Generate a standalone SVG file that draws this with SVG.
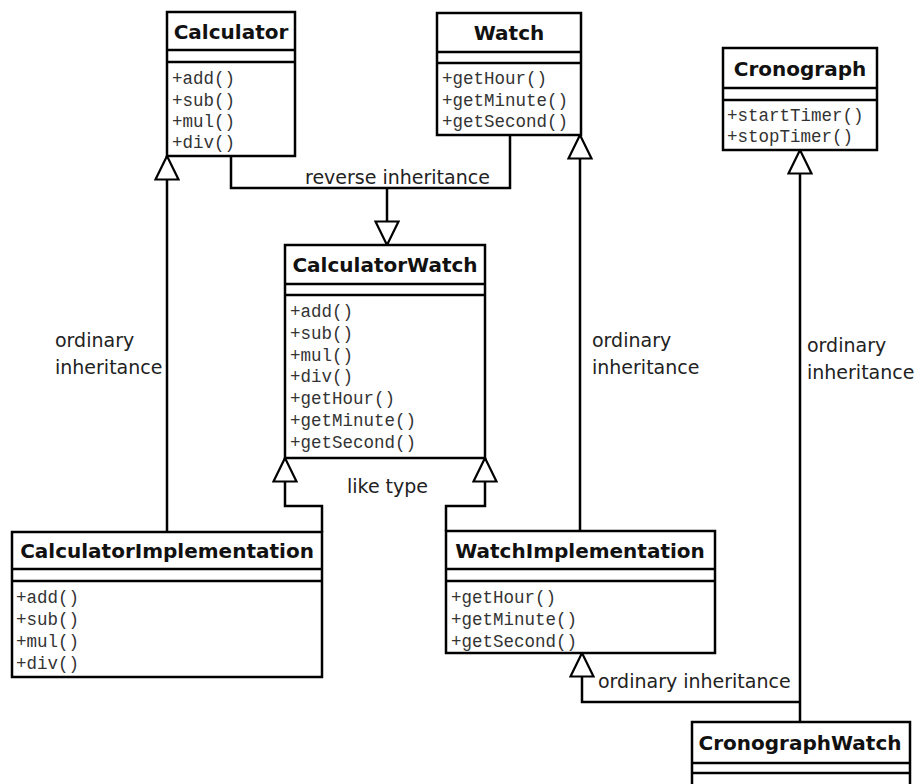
<svg xmlns="http://www.w3.org/2000/svg" width="920" height="784" viewBox="0 0 920 784">
  <defs>
    <style>
      .box { fill: #fff; stroke: #000; stroke-width: 2.5; }
      .sep { stroke: #000; stroke-width: 2.5; }
      .title { font-family: "DejaVu Sans", Verdana, sans-serif; font-weight: bold; font-size: 20px; fill: #111; text-anchor: middle; }
      .op { font-family: "Liberation Mono", "Courier New", monospace; font-size: 17.5px; fill: #333; }
      .lbl { font-family: "DejaVu Sans", Verdana, sans-serif; font-size: 19px; fill: #222; }
      .edge { fill: none; stroke: #000; stroke-width: 2.5; }
    </style>
    <!-- hollow generalization arrowhead -->
    <marker id="gen" viewBox="0 0 27 26" refX="25" refY="13" markerWidth="27" markerHeight="26" orient="auto" markerUnits="userSpaceOnUse">
      <path d="M25 13 L1.5 1.5 L1.5 24.5 Z" fill="#fff" stroke="#000" stroke-width="2.2"/>
    </marker>
  </defs>

  <rect width="920" height="784" fill="#fff"/>

  <!-- connectors -->
  <g id="connectors">
    <path class="edge" d="M231 156 V188 H510 V135"/>
    <path class="edge" d="M387 188 V245" marker-end="url(#gen)"/>
    <path class="edge" d="M167 532 V156" marker-end="url(#gen)"/>
    <path class="edge" d="M580 531 V135" marker-end="url(#gen)"/>
    <path class="edge" d="M800 722 V150" marker-end="url(#gen)"/>
    <path class="edge" d="M322 532 V506 H285 V458" marker-end="url(#gen)"/>
    <path class="edge" d="M446 531 V506 H485 V458" marker-end="url(#gen)"/>
    <path class="edge" d="M800 702 H582 V653" marker-end="url(#gen)"/>
    <text class="lbl" x="305" y="184">reverse inheritance</text>
    <text class="lbl" x="55" y="347">ordinary</text>
    <text class="lbl" x="55" y="374">inheritance</text>
    <text class="lbl" x="592" y="347">ordinary</text>
    <text class="lbl" x="592" y="374">inheritance</text>
    <text class="lbl" x="807" y="352">ordinary</text>
    <text class="lbl" x="807" y="379">inheritance</text>
    <text class="lbl" x="347" y="493">like type</text>
    <text class="lbl" x="598" y="688">ordinary inheritance</text>
  </g>

  <!-- Calculator -->
  <g id="calculator">
    <rect class="box" x="167" y="12" width="128" height="144"/>
    <line class="sep" x1="167" y1="50" x2="295" y2="50"/>
    <line class="sep" x1="167" y1="62" x2="295" y2="62"/>
    <text class="title" x="231" y="39">Calculator</text>
    <text class="op" x="172" y="84">+add()</text>
    <text class="op" x="172" y="106">+sub()</text>
    <text class="op" x="172" y="127">+mul()</text>
    <text class="op" x="172" y="148">+div()</text>
  </g>

  <!-- Watch -->
  <g id="watch">
    <rect class="box" x="437" y="13" width="144" height="122"/>
    <line class="sep" x1="437" y1="52" x2="581" y2="52"/>
    <line class="sep" x1="437" y1="63" x2="581" y2="63"/>
    <text class="title" x="509" y="40">Watch</text>
    <text class="op" x="442" y="84">+getHour()</text>
    <text class="op" x="442" y="106">+getMinute()</text>
    <text class="op" x="442" y="127">+getSecond()</text>
  </g>

  <!-- Cronograph -->
  <g id="cronograph">
    <rect class="box" x="723" y="48" width="154" height="102"/>
    <line class="sep" x1="723" y1="88" x2="877" y2="88"/>
    <line class="sep" x1="723" y1="100" x2="877" y2="100"/>
    <text class="title" x="800" y="76">Cronograph</text>
    <text class="op" x="727" y="121">+startTimer()</text>
    <text class="op" x="727" y="142">+stopTimer()</text>
  </g>

  <!-- CalculatorWatch -->
  <g id="calculatorWatch">
    <rect class="box" x="285" y="245" width="200" height="213"/>
    <line class="sep" x1="285" y1="284" x2="485" y2="284"/>
    <line class="sep" x1="285" y1="295" x2="485" y2="295"/>
    <text class="title" x="385" y="272">CalculatorWatch</text>
    <text class="op" x="290" y="317">+add()</text>
    <text class="op" x="290" y="339">+sub()</text>
    <text class="op" x="290" y="361">+mul()</text>
    <text class="op" x="290" y="382">+div()</text>
    <text class="op" x="290" y="404">+getHour()</text>
    <text class="op" x="290" y="426">+getMinute()</text>
    <text class="op" x="290" y="448">+getSecond()</text>
  </g>

  <!-- CalculatorImplementation -->
  <g id="calculatorImplementation">
    <rect class="box" x="12" y="532" width="310" height="145"/>
    <line class="sep" x1="12" y1="569" x2="322" y2="569"/>
    <line class="sep" x1="12" y1="581" x2="322" y2="581"/>
    <text class="title" x="167" y="558">CalculatorImplementation</text>
    <text class="op" x="16" y="603">+add()</text>
    <text class="op" x="16" y="625">+sub()</text>
    <text class="op" x="16" y="647">+mul()</text>
    <text class="op" x="16" y="669">+div()</text>
  </g>

  <!-- WatchImplementation -->
  <g id="watchImplementation">
    <rect class="box" x="446" y="531" width="269" height="122"/>
    <line class="sep" x1="446" y1="569" x2="715" y2="569"/>
    <line class="sep" x1="446" y1="581" x2="715" y2="581"/>
    <text class="title" x="580" y="558">WatchImplementation</text>
    <text class="op" x="451" y="603">+getHour()</text>
    <text class="op" x="451" y="625">+getMinute()</text>
    <text class="op" x="451" y="647">+getSecond()</text>
  </g>

  <!-- CronographWatch -->
  <g id="cronographWatch">
    <rect class="box" x="692" y="722" width="218" height="80"/>
    <line class="sep" x1="692" y1="763" x2="910" y2="763"/>
    <line class="sep" x1="692" y1="773" x2="910" y2="773"/>
    <text class="title" x="800" y="750">CronographWatch</text>
  </g>
</svg>
